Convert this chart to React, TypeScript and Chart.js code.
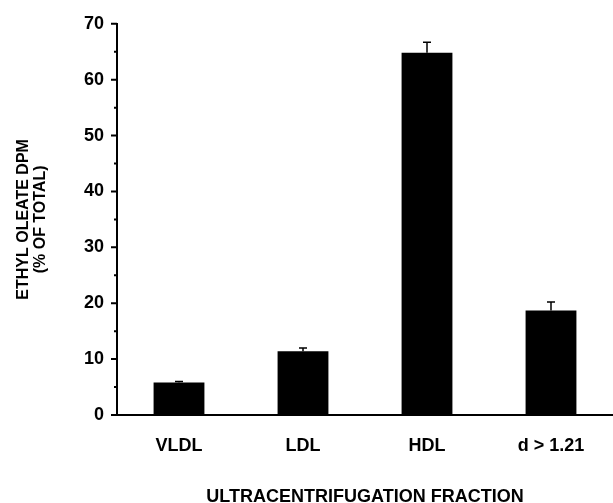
import React, { useEffect, useRef } from "react";
import { Chart, registerables } from "chart.js";

Chart.register(...registerables);

const categories = ["VLDL", "LDL", "HDL", "d > 1.21"];
const values = [5.8, 11.4, 64.8, 18.7];
const errors = [0.2, 0.6, 1.9, 1.5];
const yMajorTicks = [0, 10, 20, 30, 40, 50, 60, 70];
const yMinorTicks = [5, 15, 25, 35, 45, 55, 65];
const yTitle = ["ETHYL OLEATE DPM", "(% OF TOTAL)"];
const xTitle = "ULTRACENTRIFUGATION FRACTION";

const FONT = "'Liberation Sans', Arial, Helvetica, sans-serif";

const errorBarPlugin = {
  id: "errorBars",
  afterDatasetsDraw(chart: any) {
    const meta = chart.getDatasetMeta(0);
    const yScale = chart.scales.y;
    const ctx = chart.ctx;
    ctx.save();
    ctx.strokeStyle = "#000";
    ctx.lineWidth = 1.5;
    meta.data.forEach((el: any, i: number) => {
      const top = yScale.getPixelForValue(values[i] + errors[i]);
      const base = el.y;
      ctx.beginPath();
      ctx.moveTo(el.x, base);
      ctx.lineTo(el.x, top);
      ctx.moveTo(el.x - 4, top);
      ctx.lineTo(el.x + 4, top);
      ctx.stroke();
    });
    ctx.restore();
  },
};

const tickMarksPlugin = {
  id: "tickMarks",
  afterDraw(chart: any) {
    const yScale = chart.scales.y;
    const left = chart.chartArea.left;
    const ctx = chart.ctx;
    ctx.save();
    ctx.strokeStyle = "#000";
    ctx.lineWidth = 2;
    ctx.beginPath();
    yMajorTicks.forEach((v) => {
      const y = yScale.getPixelForValue(v);
      ctx.moveTo(left - 6, y);
      ctx.lineTo(left, y);
    });
    yMinorTicks.forEach((v) => {
      const y = yScale.getPixelForValue(v);
      ctx.moveTo(left - 3, y);
      ctx.lineTo(left + 1, y);
    });
    ctx.stroke();
    ctx.restore();
  },
};

export default function App() {
  const canvasRef = useRef<HTMLCanvasElement | null>(null);

  useEffect(() => {
    if (!canvasRef.current) return;
    const chart = new Chart(canvasRef.current, {
      type: "bar",
      data: {
        labels: categories,
        datasets: [
          {
            data: values,
            backgroundColor: "#000",
            borderWidth: 0,
            categoryPercentage: 1,
            barPercentage: 0.41,
          },
        ],
      },
      options: {
        responsive: false,
        animation: false,
        devicePixelRatio: 1,
        layout: { padding: { top: 20, left: 0, right: 0, bottom: 0 } },
        plugins: {
          legend: { display: false },
          tooltip: { enabled: false },
        },
        scales: {
          x: {
            grid: { display: false, drawTicks: false },
            border: { display: true, color: "#000", width: 2 },
            ticks: {
              color: "#000",
              padding: 20,
              autoSkip: false,
              maxRotation: 0,
              font: { family: FONT, size: 18, weight: "bold" },
            },
            title: {
              display: true,
              text: xTitle,
              color: "#000",
              padding: { top: 0, bottom: 0 },
              font: { family: FONT, size: 18, weight: "bold", lineHeight: 0.7 },
            },
            afterFit: (s: any) => {
              s.height = 88;
            },
          },
          y: {
            min: 0,
            max: 70,
            grid: { display: false, drawTicks: false },
            border: { display: true, color: "#000", width: 2 },
            ticks: {
              stepSize: 10,
              color: "#000",
              padding: 13,
              font: { family: FONT, size: 18, weight: "bold" },
            },
            title: {
              display: true,
              text: yTitle,
              color: "#000",
              padding: { top: 15, bottom: 0 },
              font: { family: FONT, size: 16, weight: "bold", lineHeight: 1.05 },
            },
            afterFit: (s: any) => {
              s.width = 117;
            },
          },
        },
      },
      plugins: [errorBarPlugin, tickMarksPlugin],
    });
    return () => chart.destroy();
  }, []);

  return (
    <div style={{ position: "absolute", left: 0, top: 0, width: 613, height: 503, background: "#fff" }}>
      <canvas ref={canvasRef} width={613} height={503} style={{ display: "block" }} />
    </div>
  );
}
